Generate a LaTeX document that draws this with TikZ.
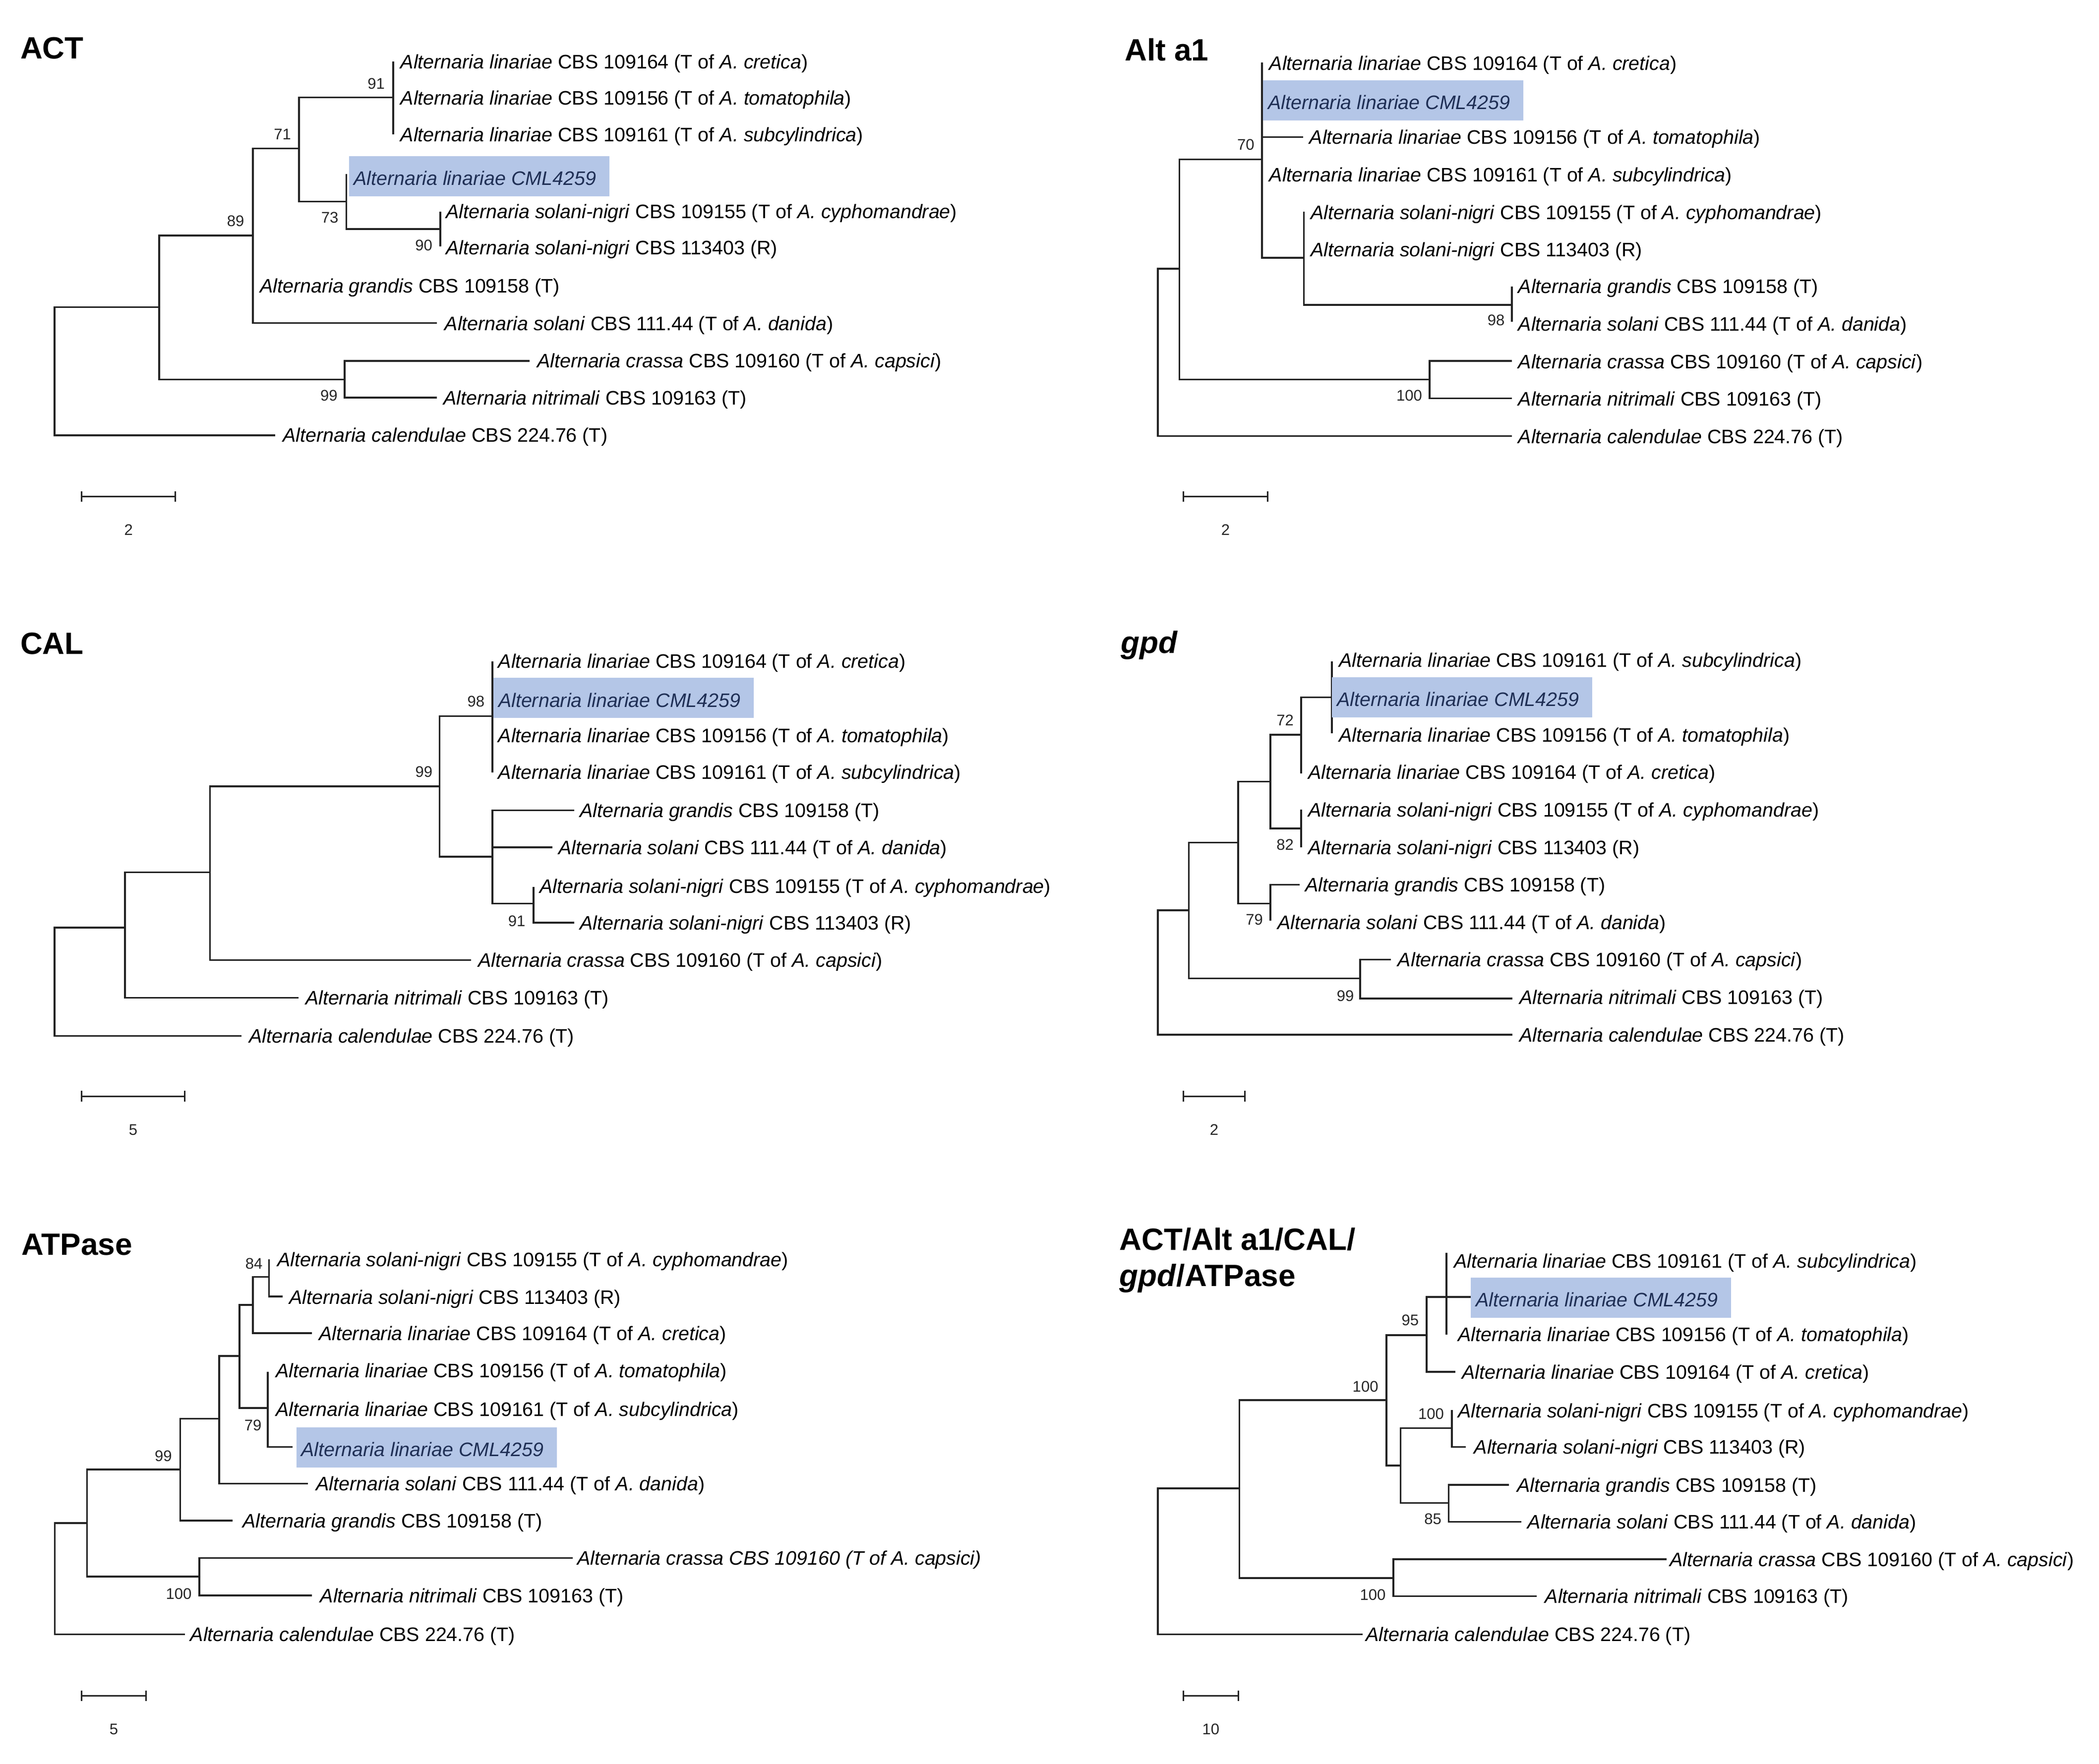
\documentclass[tikz,border=0pt]{standalone}
\usepackage{fontspec}
\setmainfont{Liberation Sans}
\definecolor{hlc}{HTML}{B4C6E7}
\definecolor{hltx}{HTML}{1F2F55}
\definecolor{br}{HTML}{222222}
\newcommand\gAL{\textit{Alternaria linariae}}
\newcommand\gASN{\textit{Alternaria solani-nigri}}
\newcommand\gAG{\textit{Alternaria grandis}}
\newcommand\gAS{\textit{Alternaria solani}}
\newcommand\gAC{\textit{Alternaria crassa}}
\newcommand\gAN{\textit{Alternaria nitrimali}}
\newcommand\gACA{\textit{Alternaria calendulae}}
\newcommand\tCre{\gAL{} CBS 109164 (T of \textit{A. cretica})}
\newcommand\tTom{\gAL{} CBS 109156 (T of \textit{A. tomatophila})}
\newcommand\tSub{\gAL{} CBS 109161 (T of \textit{A. subcylindrica})}
\newcommand\tSNa{\gASN{} CBS 109155 (T of \textit{A. cyphomandrae})}
\newcommand\tSNb{\gASN{} CBS 113403 (R)}
\newcommand\tGra{\gAG{} CBS 109158 (T)}
\newcommand\tSol{\gAS{} CBS 111.44 (T of \textit{A. danida})}
\newcommand\tCra{\gAC{} CBS 109160 (T of \textit{A. capsici})}
\newcommand\tNit{\gAN{} CBS 109163 (T)}
\newcommand\tCal{\gACA{} CBS 224.76 (T)}
\newcommand\lf[4]{\node[leaf] (#1) at (#2,#3) {#4};}
\newcommand\hl[4]{\fill[hlc] (#2,#3-15) rectangle (#2+194.5,#3+15);\node[leaf,text=hltx] (#1) at (#2+3.5,#3) {\textit{Alternaria linariae} \textit{CML4259}};}
\newcommand\bs[4]{\node[bsl] (#1) at (#2,#3) {#4};}
\newcommand\sbar[5]{\draw[br,line width=1.1pt] (#2,#4-4)--(#2,#4+4) (#2,#4)--(#3,#4) (#3,#4-4)--(#3,#4+4);\node[bsl] (#1) at ({(#2+#3)/2},#4+25) {#5};}
\begin{document}
\begin{tikzpicture}[x=1pt,y=-1pt,
  leaf/.style={anchor=west,inner sep=0pt,yshift=-1.5pt,font=\fontsize{14.6}{16}\selectfont},
  bsl/.style={inner sep=0pt,font=\fontsize{11.5}{13}\selectfont,text=black!85},
  ttl/.style={anchor=west,inner sep=0pt,font=\fontsize{23}{28}\selectfont\bfseries},
  tr/.style={br,line width=1.3pt}]
\useasboundingbox (0,0) rectangle (1568,1317.6);
% ===== ACT =====
\node[ttl] (tACT) at (15,36) {ACT};
\draw[tr] (205.6,325.2)--(40.7,325.2)--(40.7,229.4)--(118.9,229.4);
\draw[tr] (189,176)--(118.9,176)--(118.9,283.6)--(257.5,283.6);
\draw[tr] (223.3,111)--(189,111)--(189,241.4)--(326.5,241.4);
\draw[tr] (293.7,72.8)--(223.3,72.8)--(223.3,150.5)--(258.7,150.5);
\draw[tr] (293.7,46)--(293.7,100.3);
\draw[tr] (258.7,130)--(258.7,171.2)--(328.9,171.2);
\draw[tr] (328.9,158)--(328.9,184.2);
\draw[tr] (395.7,269.6)--(257.5,269.6)--(257.5,297)--(326.5,297);
\lf{a1}{299}{46}{\tCre}
\lf{a2}{299}{73}{\tTom}
\lf{a3}{299}{100.5}{\tSub}
\hl{a4}{260.6}{131.5}{}
\lf{a5}{333}{158}{\tSNa}
\lf{a6}{333}{185}{\tSNb}
\lf{a7}{194}{213.5}{\tGra}
\lf{a8}{332}{241.5}{\tSol}
\lf{a9}{401}{269.5}{\tCra}
\lf{a10}{331}{297}{\tNit}
\lf{a11}{211}{325}{\tCal}
\bs{b1}{281}{62.7}{91}\bs{b2}{211}{100.3}{71}\bs{b3}{176}{165}{89}
\bs{b4}{246.4}{162.5}{73}\bs{b5}{316.6}{183.2}{90}\bs{b6}{245.7}{295.7}{99}
\sbar{s1}{61}{131}{371}{2}
% ===== Alt a1 =====
\node[ttl] (tALT) at (840,37) {Alt a1};
\draw[tr] (1129.5,325.8)--(864.9,325.8)--(864.9,200.7)--(881,200.7);
\draw[tr] (942.8,119)--(881,119)--(881,283.6)--(1068,283.6);
\draw[tr] (942.8,46.7)--(942.8,192.7)--(974,192.7);
\draw[tr] (942.8,102.5)--(973.5,102.5);
\draw[tr] (974,158)--(974,227.8)--(1129.4,227.8);
\draw[tr] (1129.4,214)--(1129.4,240.5);
\draw[tr] (1129.5,269.6)--(1068,269.6)--(1068,297.7)--(1129.5,297.7);
\lf{c1}{948}{47}{\tCre}
\hl{c2}{943.5}{75}{}
\lf{c3}{978}{102.5}{\tTom}
\lf{c4}{948}{130.5}{\tSub}
\lf{c5}{979}{158.5}{\tSNa}
\lf{c6}{979}{186.5}{\tSNb}
\lf{c7}{1134}{214}{\tGra}
\lf{c8}{1134}{242}{\tSol}
\lf{c9}{1134}{270}{\tCra}
\lf{c10}{1134}{298}{\tNit}
\lf{c11}{1134}{326}{\tCal}
\bs{d1}{930.6}{108}{70}\bs{d2}{1117.6}{239.4}{98}\bs{d3}{1052.7}{295.7}{100}
\sbar{s2}{884}{947}{371}{2}
% ===== CAL =====
\node[ttl] (tCAL) at (15,481) {CAL};
\draw[tr] (180.3,774)--(40.8,774)--(40.8,693)--(93.3,693);
\draw[tr] (156.9,651.7)--(93.3,651.7)--(93.3,745.5)--(223,745.5);
\draw[tr] (328.4,587.5)--(156.9,587.5)--(156.9,717.4)--(351.8,717.4);
\draw[tr] (367.9,535)--(328.4,535)--(328.4,640)--(367.9,640);
\draw[tr] (367.9,494)--(367.9,577);
\draw[tr] (429,605.5)--(367.9,605.5)--(367.9,675)--(398.5,675);
\draw[tr] (367.9,633)--(412.8,633);
\draw[tr] (398.5,662.8)--(398.5,689.3)--(429,689.3);
\lf{e1}{372}{494}{\tCre}
\hl{e2}{368.6}{521.5}{}
\lf{e3}{372}{549.5}{\tTom}
\lf{e4}{372}{577}{\tSub}
\lf{e5}{433}{605.5}{\tGra}
\lf{e6}{417}{633}{\tSol}
\lf{e7}{403}{662}{\tSNa}
\lf{e8}{433}{689.3}{\tSNb}
\lf{e9}{357}{717.4}{\tCra}
\lf{e10}{228}{745.5}{\tNit}
\lf{e11}{186}{774}{\tCal}
\bs{f1}{355.6}{524}{98}\bs{f2}{316.7}{576.8}{99}\bs{f3}{386}{688}{91}
\sbar{s3}{61}{138}{819}{5}
% ===== gpd =====
\node[ttl] (tGPD) at (837,482) {\textit{gpd}};
\draw[tr] (1129.7,773)--(865,773)--(865,680)--(888,680);
\draw[tr] (925,629.5)--(888,629.5)--(888,731)--(1016,731);
\draw[tr] (1039,717)--(1016,717)--(1016,746)--(1129.7,746);
\draw[tr] (949,584)--(925,584)--(925,675)--(949,675);
\draw[tr] (972,549)--(949,549)--(949,619)--(972,619);
\draw[tr] (995,521)--(972,521)--(972,578);
\draw[tr] (995,494)--(995,548);
\draw[tr] (972,605)--(972,633);
\draw[tr] (971,661)--(949,661)--(949,688);
\lf{g1}{1000}{493}{\tSub}
\hl{g2}{995}{521}{}
\lf{g3}{1000}{549}{\tTom}
\lf{g4}{977}{577}{\tCre}
\lf{g5}{977}{605}{\tSNa}
\lf{g6}{977}{633}{\tSNb}
\lf{g7}{975}{661}{\tGra}
\lf{g8}{954}{689}{\tSol}
\lf{g9}{1044}{717}{\tCra}
\lf{g10}{1135}{745}{\tNit}
\lf{g11}{1135}{773}{\tCal}
\bs{h1}{960}{538}{72}\bs{h2}{960}{631}{82}\bs{h3}{937}{687}{79}\bs{h4}{1005}{744}{99}
\sbar{s4}{884}{930}{819}{2}
% ===== ATPase =====
\node[ttl] (tATP) at (16,930) {ATPase};
\draw[tr] (138,1221)--(41,1221)--(41,1138)--(65,1138);
\draw[tr] (134.7,1098)--(65,1098)--(65,1178)--(148.9,1178);
\draw[tr] (428,1164)--(148.9,1164)--(148.9,1192)--(233,1192);
\draw[tr] (163.8,1060)--(134.7,1060)--(134.7,1136)--(173.7,1136);
\draw[tr] (179,1013)--(163.8,1013)--(163.8,1108.5)--(230,1108.5);
\draw[tr] (189,975)--(179,975)--(179,1052)--(200,1052);
\draw[tr] (201,954)--(189,954)--(189,996)--(233,996);
\draw[tr] (201,941)--(201,968.6)--(211,968.6);
\draw[tr] (200,1025)--(200,1081)--(218.5,1081);
\lf{i1}{207}{941}{\tSNa}
\lf{i2}{216}{969}{\tSNb}
\lf{i3}{238}{996}{\tCre}
\lf{i4}{206}{1024}{\tTom}
\lf{i5}{206}{1053}{\tSub}
\hl{i6}{221.4}{1081.5}{}
\lf{i7}{236}{1108.5}{\tSol}
\lf{i8}{181}{1136}{\tGra}
\lf{i9}{431}{1164}{\textit{Alternaria crassa CBS 109160 (T of A. capsici)}}
\lf{i10}{239}{1192}{\tNit}
\lf{i11}{142}{1221}{\tCal}
\bs{j1}{189.7}{944}{84}\bs{j2}{189}{1065}{79}\bs{j3}{122}{1088}{99}\bs{j4}{133.5}{1191}{100}
\sbar{s5}{61}{109}{1267}{5}
% ===== Combined =====
\node[ttl] (tC1) at (836,926) {ACT/Alt a1/CAL/};
\node[ttl] (tC2) at (836,955) {\textit{gpd}/ATPase};
\draw[tr] (1018,1221)--(864.9,1221)--(864.9,1112)--(925.8,1112);
\draw[tr] (1035.7,1046)--(925.8,1046)--(925.8,1179)--(1040.9,1179);
\draw[tr] (1245,1165)--(1040.9,1165)--(1040.9,1192.6)--(1148,1192.6);
\draw[tr] (1065.7,997.5)--(1035.7,997.5)--(1035.7,1095)--(1046.3,1095);
\draw[tr] (1098.7,969)--(1065.7,969)--(1065.7,1025)--(1087,1025);
\draw[tr] (1080.5,936)--(1080.5,997);
\draw[tr] (1084.6,1067)--(1046.3,1067)--(1046.3,1123)--(1082.2,1123);
\draw[tr] (1084.6,1053.6)--(1084.6,1081)--(1095,1081);
\draw[tr] (1127,1109.4)--(1082.2,1109.4)--(1082.2,1137)--(1136.5,1137);
\lf{k1}{1086}{942}{\tSub}
\hl{k2}{1098.7}{969.5}{}
\lf{k3}{1089}{997}{\tTom}
\lf{k4}{1092}{1025}{\tCre}
\lf{k5}{1089}{1054}{\tSNa}
\lf{k6}{1101}{1081}{\tSNb}
\lf{k7}{1133}{1109.5}{\tGra}
\lf{k8}{1141}{1137}{\tSol}
\lf{k9}{1247}{1165}{\tCra}
\lf{k10}{1154}{1192.6}{\tNit}
\lf{k11}{1020}{1221}{\tCal}
\bs{l1}{1053.4}{986.5}{95}\bs{l2}{1020}{1036}{100}\bs{l3}{1069}{1056.5}{100}
\bs{l4}{1070.4}{1135}{85}\bs{l5}{1025.5}{1191.6}{100}
\sbar{s6}{884}{925}{1267}{10}
\end{tikzpicture}
\end{document}
